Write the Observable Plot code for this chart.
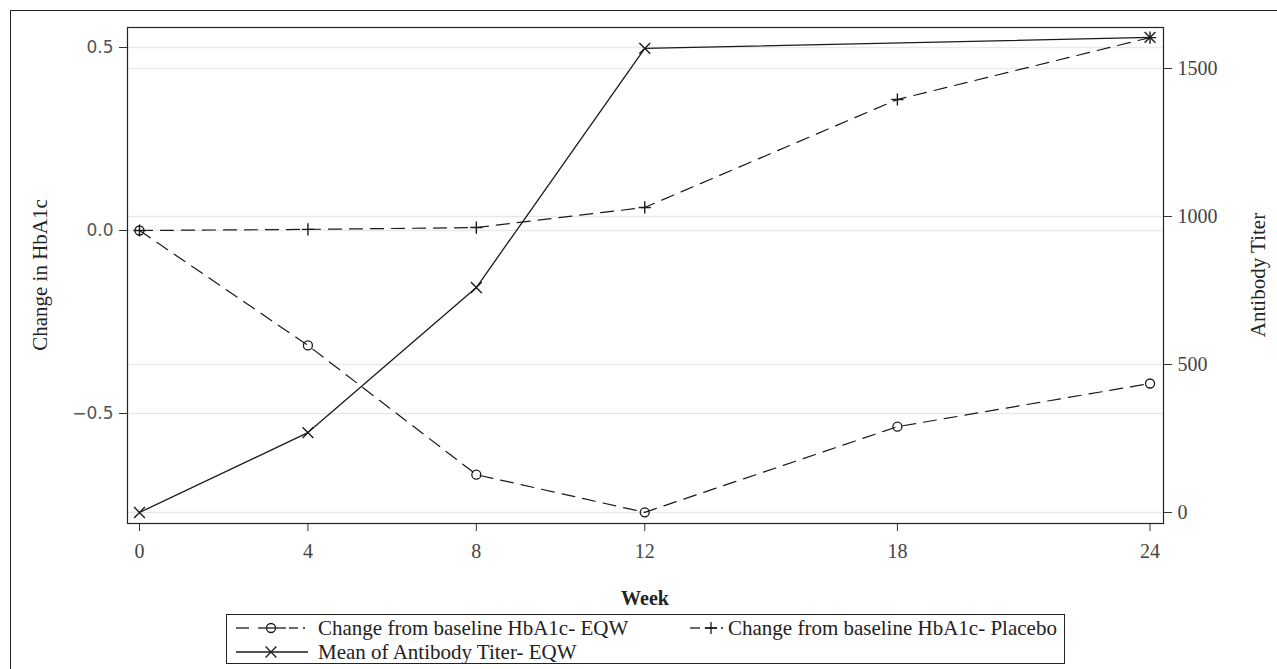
<!DOCTYPE html>
<html>
<head>
<meta charset="utf-8">
<script src="https://cdn.jsdelivr.net/npm/d3@7"></script>
<script src="https://cdn.jsdelivr.net/npm/@observablehq/plot@0.6"></script>
<style>
  html, body { margin: 0; padding: 0; background: #fff; }
  body { width: 1277px; height: 669px; overflow: hidden; position: relative; font-family: "Liberation Serif", "Times New Roman", serif; color: #222; }
  #frame { position: absolute; left: 10px; top: 10px; width: 1300px; height: 700px; border: 1px solid #222; box-sizing: border-box; }
  #chart { position: absolute; left: 0; top: 0; }
  .ylab { position: absolute; font-size: 21px; white-space: nowrap; transform: translate(-50%, -50%) rotate(-90deg); color: #222; }
  #xlab { position: absolute; left: 645px; top: 598px; transform: translate(-50%, -50%); font-size: 20px; font-weight: bold; color: #222; }
  #legend { position: absolute; left: 226px; top: 614px; width: 839px; height: 50px; border: 1px solid #222; box-sizing: border-box; }
  #legend svg { position: absolute; left: 0; top: 0; }
  .lt { position: absolute; font-size: 21px; white-space: nowrap; transform: translateY(-50%); line-height: 1; color: #222; }
</style>
</head>
<body>
<div id="frame"></div>
<div id="chart"></div>
<div class="ylab" style="left:40px; top:275px;">Change in HbA1c</div>
<div class="ylab" style="left:1258px; top:275px;">Antibody Titer</div>
<div id="xlab">Week</div>
<div id="legend"></div>
<script>
// ---- data ----
const weeks = [0, 4, 8, 12, 18, 24];
const hba1cEQW = [0, -0.314, -0.667, -0.77, -0.536, -0.418];
const hba1cPlacebo = [0, 0.003, 0.008, 0.063, 0.358, 0.527];
const titerWeeks = [0, 4, 8, 12, 24];
const titerEQW = [0, 270, 760, 1568, 1605];
const xTicks = [0, 4, 8, 12, 18, 24];
const leftTicks = [-0.5, 0, 0.5];
const rightTicks = [0, 500, 1000, 1500];
const seriesNames = ["Change from baseline HbA1c- EQW", "Change from baseline HbA1c- Placebo", "Mean of Antibody Titer- EQW"];

// ---- scales ----
const yLo = -0.8005, yHi = 0.5546;
const tLo = -37.2, tHi = 1638.5;
const toLeft = t => yLo + (t - tLo) * (yHi - yLo) / (tHi - tLo);
const fromLeft = v => tLo + (v - yLo) * (tHi - tLo) / (yHi - yLo);

const eqw = weeks.map((w, i) => ({week: w, v: hba1cEQW[i]}));
const pla = weeks.map((w, i) => ({week: w, v: hba1cPlacebo[i]}));
const tit = titerWeeks.map((w, i) => ({week: w, v: toLeft(titerEQW[i])}));
const gridVals = leftTicks.concat(rightTicks.map(toLeft));

const ink = "#1a1a1a";
const chart = Plot.plot({
  width: 1277,
  height: 669,
  marginLeft: 127,
  marginRight: 114,
  marginTop: 27,
  marginBottom: 146,
  x: {domain: [-0.285, 24.32]},
  y: {domain: [yLo, yHi]},
  style: {background: "transparent", fontFamily: "Liberation Serif, serif", overflow: "visible"},
  marks: [
    Plot.ruleY(gridVals, {stroke: "#e9e9e9", strokeWidth: 1.3}),
    Plot.axisY(leftTicks, {anchor: "left", tickSize: 8, tickPadding: 6, fontSize: 17, fontFamily: "DejaVu Sans, sans-serif", color: "#555", stroke: "#333", tickFormat: d3.format(".1f"), label: null}),
    Plot.axisY(rightTicks.map(toLeft), {anchor: "right", tickSize: 8, tickPadding: 6, fontSize: 20, color: "#444", stroke: "#333", tickFormat: d => String(Math.round(fromLeft(d))), label: null}),
    Plot.axisX(xTicks, {anchor: "bottom", tickSize: 8, tickPadding: 12, fontSize: 20, color: "#444", stroke: "#333", label: null}),
    Plot.line(eqw, {x: "week", y: "v", stroke: ink, strokeWidth: 1.2, strokeDasharray: "13,8"}),
    Plot.line(pla, {x: "week", y: "v", stroke: ink, strokeWidth: 1.2, strokeDasharray: "13,8"}),
    Plot.line(tit, {x: "week", y: "v", stroke: ink, strokeWidth: 1.3}),
    Plot.dot(eqw, {x: "week", y: "v", symbol: "circle", r: 4.5, stroke: ink, fill: "none", strokeWidth: 1.3}),
    Plot.dot(pla, {x: "week", y: "v", symbol: "plus", r: 4, stroke: ink, fill: "none", strokeWidth: 1.4}),
    Plot.dot(tit, {x: "week", y: "v", symbol: "times", r: 5, stroke: ink, fill: "none", strokeWidth: 1.4}),
    Plot.frame({stroke: "#222", strokeWidth: 1.2})
  ]
});
document.getElementById("chart").appendChild(chart);

// ---- legend ----
const L = 226;
const leg = document.getElementById("legend");
const ns = "http://www.w3.org/2000/svg";
const svg = document.createElementNS(ns, "svg");
svg.setAttribute("width", 839); svg.setAttribute("height", 50);
function seg(x1, x2, y) {
  const l = document.createElementNS(ns, "line");
  l.setAttribute("x1", x1 - L); l.setAttribute("x2", x2 - L);
  l.setAttribute("y1", y); l.setAttribute("y2", y);
  l.setAttribute("stroke", ink); l.setAttribute("stroke-width", 1.3);
  svg.appendChild(l);
}
function sym(type, x, y) {
  const p = document.createElementNS(ns, "path");
  const s = {circle: d3.symbolCircle, plus: d3.symbolPlus, times: d3.symbolTimes}[type];
  const r = {circle: 4.5, plus: 4, times: 5}[type];
  p.setAttribute("d", d3.symbol(s, Math.PI * r * r)());
  p.setAttribute("transform", `translate(${x - L},${y})`);
  p.setAttribute("fill", "none"); p.setAttribute("stroke", ink); p.setAttribute("stroke-width", 1.3);
  svg.appendChild(p);
}
let y1 = 13, y2 = 37;
seg(235, 248, y1); seg(257, 285, y1); seg(288, 297, y1); seg(302, 304, y1); sym("circle", 270, y1);
seg(689, 699, y1); seg(704, 716, y1); seg(720, 722, y1); sym("plus", 710, y1);
seg(235, 307, y2); sym("times", 270, y2);
leg.appendChild(svg);
function txt(s, x, y) {
  const d = document.createElement("div");
  d.className = "lt"; d.textContent = s;
  d.style.left = (x - L) + "px"; d.style.top = y + "px";
  leg.appendChild(d);
}
txt(seriesNames[0], 317, y1);
txt(seriesNames[1], 727, y1);
txt(seriesNames[2], 317, y2);
</script>
</body>
</html>
